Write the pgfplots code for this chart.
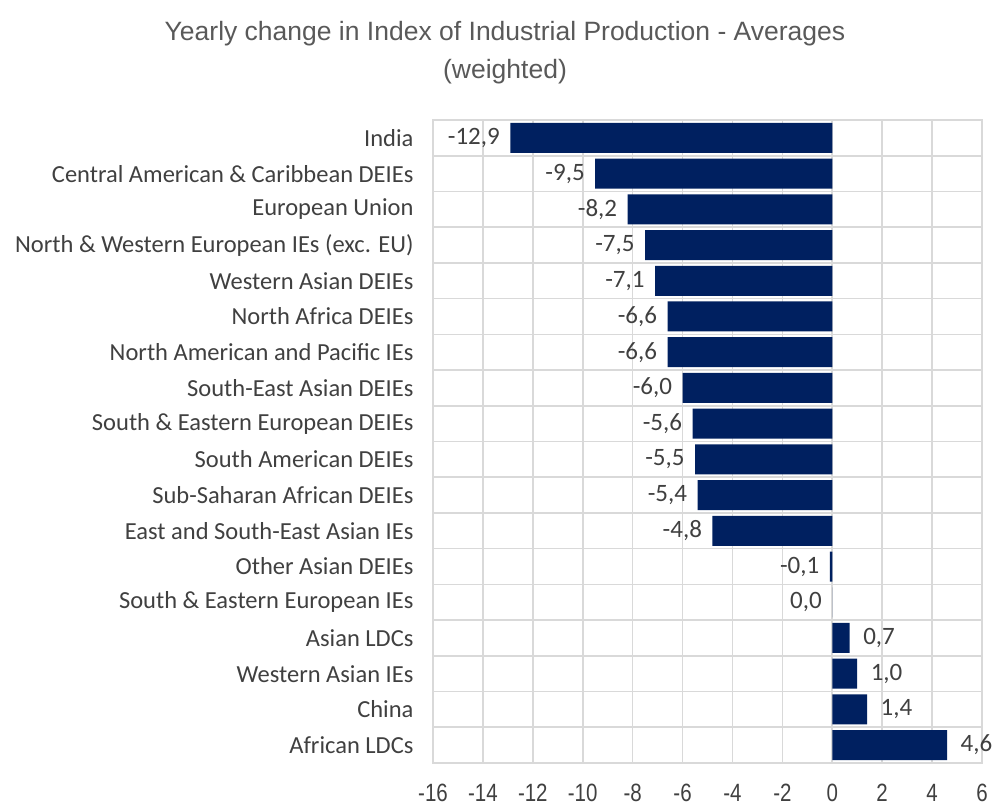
\documentclass[border=0pt]{standalone}
\usepackage{fontspec}
\setmainfont{Carlito}
\newfontfamily\narrow[FakeStretch=0.82]{Liberation Sans}
\newfontfamily\titlefont{Liberation Sans}
\usepackage{pgfplots}
\pgfplotsset{compat=1.18}
\usepackage{pgfplotstable}
\definecolor{barblue}{HTML}{002060}
\definecolor{gridgrey}{HTML}{D9D9D9}
\definecolor{txtgrey}{HTML}{404040}
\definecolor{titlegrey}{HTML}{595959}
\pgfplotstableread[col sep=comma]{
y,x,lab
0,-12.9,{-12,9}
1,-9.5,{-9,5}
2,-8.2,{-8,2}
3,-7.5,{-7,5}
4,-7.1,{-7,1}
5,-6.6,{-6,6}
6,-6.6,{-6,6}
7,-6.0,{-6,0}
8,-5.6,{-5,6}
9,-5.5,{-5,5}
10,-5.4,{-5,4}
11,-4.8,{-4,8}
12,-0.1,{-0,1}
13,0.0,{0,0}
}\negdata
\pgfplotstableread[col sep=comma]{
y,x,lab
14,0.7,{0,7}
15,1.0,{1,0}
16,1.4,{1,4}
17,4.6,{4,6}
}\posdata
\begin{document}
\begin{tikzpicture}
\path (0,0) rectangle (997pt,802pt);
\node[align=center, text=titlegrey, font=\titlefont\fontsize{26.5}{38}\selectfont] at (505pt,749pt)
  {Yearly change in Index of Industrial Production - Averages\\(weighted)};
\begin{axis}[
  at={(433pt,39pt)}, anchor=south west,
  scale only axis, width=549pt, height=643pt,
  xmin=-16, xmax=6, ymin=-0.5, ymax=17.5,
  y dir=reverse,
  xtick={-16,-14,...,6},
  ytick={0,...,17},
  yticklabels={India,Central American \& Caribbean DEIEs,European Union,North \& Western European IEs (exc. EU),Western Asian DEIEs,North Africa DEIEs,North American and Pacific IEs,South-East Asian DEIEs,South \& Eastern European DEIEs,South American DEIEs,Sub-Saharan African DEIEs,East and South-East Asian IEs,Other Asian DEIEs,South \& Eastern European IEs,Asian LDCs,Western Asian IEs,China,African LDCs},
  minor ytick={-0.5,0.5,...,17.5},
  yminorgrids=true, xmajorgrids=true, ymajorgrids=false,
  grid style={gridgrey, line width=1.6pt},
  minor grid style={gridgrey, line width=1.6pt},
  axis line style={gridgrey, line width=1.6pt},
  major tick length=0pt, minor tick length=0pt,
  tick style={draw=none},
  /pgf/number format/assume math mode=true,
  xticklabel style={font=\narrow\fontsize{25}{28}\selectfont, text=txtgrey, yshift=-18pt},
  yticklabel style={font=\fontsize{24.5}{28}\selectfont, text=txtgrey, xshift=-16pt},
  xbar, bar width=30pt, bar shift=0pt,
  point meta=explicit symbolic,
]
\addplot[fill=barblue, draw=none,
  nodes near coords, nodes near coords style={anchor=east, font=\fontsize{25}{28}\selectfont, text=txtgrey, xshift=-7pt}]
  table[x=x, y=y, meta=lab] {\negdata};
\addplot[fill=barblue, draw=none,
  nodes near coords, nodes near coords style={anchor=west, font=\fontsize{25}{28}\selectfont, text=txtgrey, xshift=10pt}]
  table[x=x, y=y, meta=lab] {\posdata};
\end{axis}
\end{tikzpicture}
\end{document}
